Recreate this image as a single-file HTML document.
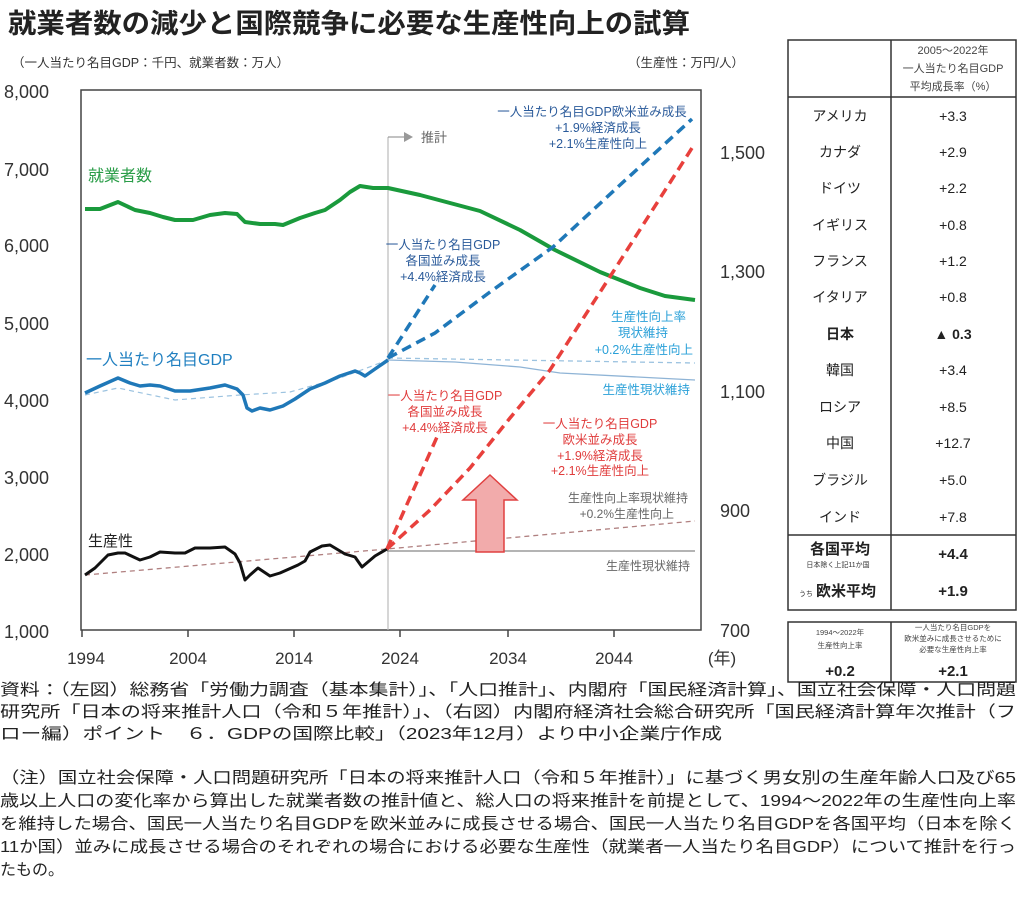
<!DOCTYPE html>
<html><head><meta charset="utf-8"><style>
html,body{margin:0;padding:0;background:#fff;}
svg{display:block;font-family:"Liberation Sans","Noto Sans CJK JP",sans-serif;}
</style></head><body>
<svg width="1024" height="900" viewBox="0 0 1024 900" xmlns="http://www.w3.org/2000/svg">
<rect width="1024" height="900" fill="#fff"/>
<text x="8" y="33" font-size="27" font-weight="bold" fill="#222" textLength="682" lengthAdjust="spacingAndGlyphs">就業者数の減少と国際競争に必要な生産性向上の試算</text>
<text x="12" y="67" font-size="12.5" fill="#333">（一人当たり名目GDP：千円、就業者数：万人）</text>
<text x="628" y="67" font-size="12.5" fill="#333">（生産性：万円/人）</text>

<rect x="81" y="90" width="620" height="540" fill="none" stroke="#444" stroke-width="1.5"/>
<g stroke="#444" stroke-width="1.5">
<line x1="82" y1="630" x2="82" y2="637"/><line x1="188" y1="630" x2="188" y2="637"/>
<line x1="294" y1="630" x2="294" y2="637"/><line x1="400" y1="630" x2="400" y2="637"/>
<line x1="508" y1="630" x2="508" y2="637"/><line x1="614" y1="630" x2="614" y2="637"/>
</g>
<g font-size="18" fill="#333">
<text x="4" y="98">8,000</text><text x="4" y="176">7,000</text><text x="4" y="252">6,000</text>
<text x="4" y="330">5,000</text><text x="4" y="407">4,000</text><text x="4" y="484">3,000</text>
<text x="4" y="561">2,000</text><text x="4" y="638">1,000</text>
<text x="720" y="159">1,500</text><text x="720" y="278">1,300</text><text x="720" y="398">1,100</text>
<text x="720" y="517">900</text><text x="720" y="637">700</text>
</g>
<g font-size="17" fill="#333" text-anchor="middle">
<text x="86" y="664">1994</text><text x="188" y="664">2004</text><text x="294" y="664">2014</text>
<text x="400" y="664">2024</text><text x="508" y="664">2034</text><text x="614" y="664">2044</text>
<text x="722" y="664">(年)</text>
</g>

<line x1="388" y1="137" x2="388" y2="630" stroke="#bbb" stroke-width="1.2"/>
<line x1="388" y1="137" x2="404" y2="137" stroke="#999" stroke-width="1.2"/>
<polygon points="404,132 413,137 404,142" fill="#999"/>
<text x="421" y="142" font-size="13" fill="#666">推計</text>

<polyline points="85,395 118,388 175,400 240,395 290,392 340,378 388,360" fill="none" stroke="#9cc3e0" stroke-width="1.2" stroke-dasharray="5,4"/>
<polyline points="85,575 387,549 695,521" fill="none" stroke="#b08080" stroke-width="1.3" stroke-dasharray="5,4"/>
<line x1="387" y1="551" x2="695" y2="551" stroke="#888" stroke-width="1.3"/>
<polyline points="388,358 695,363" fill="none" stroke="#9cc3e0" stroke-width="1.3" stroke-dasharray="5,4"/>
<polyline points="388,360 455,362 520,367 560,373 695,380" fill="none" stroke="#8fb4d6" stroke-width="1.3"/>

<polyline points="85,209 100,209 118,202 135,210 150,213 163,217 175,220 193,220 210,215 225,213 237,214 245,222 260,224 275,224 283,225 300,218 315,213 325,210 340,200 350,192 360,186 373,188 388,188 420,195 450,203 480,211 520,230 555,250 600,272 640,288 665,296 695,300" fill="none" stroke="#1a9a3c" stroke-width="4" stroke-linejoin="round"/>
<polyline points="85,393 100,386 118,378 130,383 140,386 150,385 160,386 175,391 190,391 210,388 225,385 237,389 243,395 247,408 252,411 260,408 270,410 283,406 295,399 310,389 325,383 340,376 355,371 360,373 365,376 375,369 388,360" fill="none" stroke="#1f78b8" stroke-width="3.5" stroke-linejoin="round"/>
<polyline points="85,575 95,568 108,555 118,553 125,553 140,560 150,557 160,552 175,553 185,553 195,548 210,548 225,547 235,554 240,563 245,580 250,575 258,568 270,576 280,573 298,565 305,561 310,552 322,546 330,545 345,554 355,557 362,567 375,556 387,549" fill="none" stroke="#111" stroke-width="3" stroke-linejoin="round"/>

<g fill="none" stroke-width="3.5" stroke-dasharray="10,6">
<polyline points="388,358 435,285" stroke="#1f78b8"/>
<polyline points="388,358 435,333 490,292 553,247 620,185 692,119" stroke="#1f78b8"/>
<polyline points="387,549 437,437" stroke="#e8403c"/>
<polyline points="387,549 430,510 470,468 510,418 550,370 613,272 692,148" stroke="#e8403c"/>
</g>

<polygon points="490,475 517,500 504,500 504,552 476,552 476,500 463,500" fill="#f2abab" stroke="#e04040" stroke-width="1.5"/>

<text x="88" y="181" font-size="16" fill="#2a9d48">就業者数</text>
<text x="86" y="365" font-size="16" fill="#1f7fc0">一人当たり名目GDP</text>
<text x="88" y="546" font-size="15" fill="#222">生産性</text>
<g font-size="12.5" fill="#2a5a9a" text-anchor="middle">
<text x="592" y="116">一人当たり名目GDP欧米並み成長</text>
<text x="598" y="132">+1.9%経済成長</text>
<text x="598" y="148">+2.1%生産性向上</text>
<text x="443" y="249">一人当たり名目GDP</text>
<text x="443" y="265">各国並み成長</text>
<text x="443" y="281">+4.4%経済成長</text>
</g>
<g font-size="12.5" fill="#29a0d8" text-anchor="end">
<text x="686" y="321">生産性向上率</text>
<text x="668" y="337">現状維持</text>
<text x="693" y="354">+0.2%生産性向上</text>
<text x="690" y="394">生産性現状維持</text>
</g>
<g font-size="12.5" fill="#e03c3c" text-anchor="middle">
<text x="445" y="400">一人当たり名目GDP</text>
<text x="445" y="416">各国並み成長</text>
<text x="445" y="432">+4.4%経済成長</text>
<text x="600" y="428">一人当たり名目GDP</text>
<text x="600" y="444">欧米並み成長</text>
<text x="600" y="460">+1.9%経済成長</text>
<text x="600" y="475">+2.1%生産性向上</text>
</g>
<g font-size="12" fill="#666" text-anchor="end">
<text x="688" y="502">生産性向上率現状維持</text>
<text x="674" y="518">+0.2%生産性向上</text>
<text x="690" y="570">生産性現状維持</text>
</g>

<rect x="788" y="40" width="228" height="570" fill="none" stroke="#333" stroke-width="1.5"/>
<line x1="891" y1="40" x2="891" y2="610" stroke="#333" stroke-width="1.5"/>
<line x1="788" y1="97" x2="1016" y2="97" stroke="#333" stroke-width="1.5"/>
<line x1="788" y1="535" x2="1016" y2="535" stroke="#333" stroke-width="1.5"/>
<g font-size="11" fill="#444" text-anchor="middle">
<text x="953" y="54">2005～2022年</text>
<text x="953" y="72">一人当たり名目GDP</text>
<text x="953" y="90">平均成長率（%）</text>
</g>
<g font-size="14" fill="#222" text-anchor="middle">
<text x="840" y="121">アメリカ</text><text x="953" y="121">+3.3</text>
<text x="840" y="157">カナダ</text><text x="953" y="157">+2.9</text>
<text x="840" y="193">ドイツ</text><text x="953" y="193">+2.2</text>
<text x="840" y="230">イギリス</text><text x="953" y="230">+0.8</text>
<text x="840" y="266">フランス</text><text x="953" y="266">+1.2</text>
<text x="840" y="302">イタリア</text><text x="953" y="302">+0.8</text>
<text x="840" y="339" font-weight="bold">日本</text><text x="953" y="339" font-weight="bold">▲ 0.3</text>
<text x="840" y="375">韓国</text><text x="953" y="375">+3.4</text>
<text x="840" y="412">ロシア</text><text x="953" y="412">+8.5</text>
<text x="840" y="448">中国</text><text x="953" y="448">+12.7</text>
<text x="840" y="485">ブラジル</text><text x="953" y="485">+5.0</text>
<text x="840" y="522">インド</text><text x="953" y="522">+7.8</text>
</g>
<g fill="#222" text-anchor="middle" font-weight="bold">
<text x="840" y="554" font-size="15">各国平均</text>
<text x="953" y="559" font-size="15">+4.4</text>
<text x="846" y="596" font-size="15">欧米平均</text>
<text x="953" y="596" font-size="15">+1.9</text>
</g>
<text x="838" y="567" font-size="7" fill="#333" text-anchor="middle">日本除く上記11か国</text>
<text x="806" y="596" font-size="7" fill="#333" text-anchor="middle">うち</text>

<rect x="788" y="622" width="228" height="60" fill="none" stroke="#333" stroke-width="1.5"/>
<line x1="891" y1="622" x2="891" y2="682" stroke="#333" stroke-width="1.5"/>
<g font-size="7.5" fill="#444" text-anchor="middle">
<text x="840" y="635">1994～2022年</text>
<text x="840" y="648">生産性向上率</text>
<text x="953" y="630">一人当たり名目GDPを</text>
<text x="953" y="641">欧米並みに成長させるために</text>
<text x="953" y="652">必要な生産性向上率</text>
</g>
<g font-size="15" font-weight="bold" fill="#222" text-anchor="middle">
<text x="840" y="676">+0.2</text><text x="953" y="676">+2.1</text>
</g>

<g font-size="16" fill="#222">
<text x="0" y="695" textLength="1016" lengthAdjust="spacingAndGlyphs">資料：（左図）総務省「労働力調査（基本集計）」、「人口推計」、内閣府「国民経済計算」、国立社会保障・人口問題</text>
<text x="0" y="717" textLength="1016" lengthAdjust="spacingAndGlyphs">研究所「日本の将来推計人口（令和５年推計）」、（右図）内閣府経済社会総合研究所「国民経済計算年次推計（フ</text>
<text x="0" y="739" textLength="722" lengthAdjust="spacingAndGlyphs">ロー編）ポイント　６．GDPの国際比較」（2023年12月）より中小企業庁作成</text>
<text x="0" y="783" textLength="1016" lengthAdjust="spacingAndGlyphs">（注）国立社会保障・人口問題研究所「日本の将来推計人口（令和５年推計）」に基づく男女別の生産年齢人口及び65</text>
<text x="0" y="806" textLength="1016" lengthAdjust="spacingAndGlyphs">歳以上人口の変化率から算出した就業者数の推計値と、総人口の将来推計を前提として、1994～2022年の生産性向上率</text>
<text x="0" y="829" textLength="1016" lengthAdjust="spacingAndGlyphs">を維持した場合、国民一人当たり名目GDPを欧米並みに成長させる場合、国民一人当たり名目GDPを各国平均（日本を除く</text>
<text x="0" y="852" textLength="1016" lengthAdjust="spacingAndGlyphs">11か国）並みに成長させる場合のそれぞれの場合における必要な生産性（就業者一人当たり名目GDP）について推計を行っ</text>
<text x="0" y="875">たもの。</text>
</g>
</svg>
</body></html>
